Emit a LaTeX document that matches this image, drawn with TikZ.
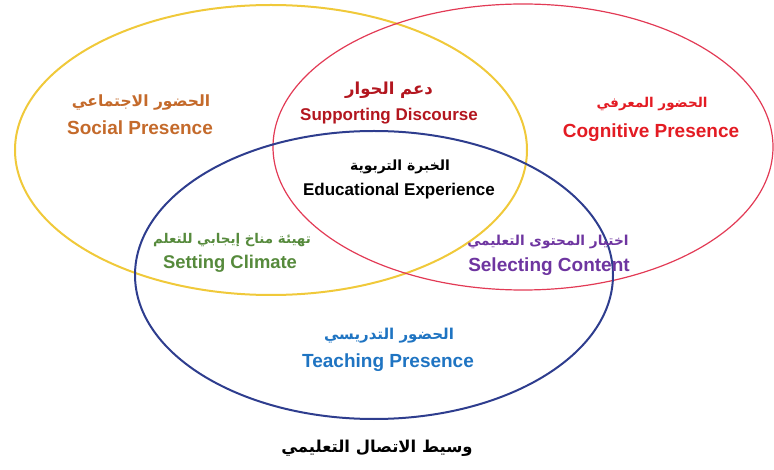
\documentclass[tikz,border=0pt]{standalone}
\usepackage{fontspec}
\usepackage{xcolor}
\usepackage{tikz}
\setmainfont{Liberation Sans}
\newfontfamily\arabicfont[Script=Arabic]{DejaVu Sans}
\TeXXeTstate=1

\definecolor{socialcol}{HTML}{C46A2B}
\definecolor{discoursecol}{HTML}{B3161F}
\definecolor{cognitivecol}{HTML}{E31B23}
\definecolor{climatecol}{HTML}{568A3C}
\definecolor{contentcol}{HTML}{6E35A0}
\definecolor{teachingcol}{HTML}{1F74C2}
\definecolor{yellowline}{HTML}{F0C93A}
\definecolor{redline}{HTML}{E23A55}
\definecolor{blueline}{HTML}{2E3D8E}

\begin{document}
\begin{tikzpicture}[x=1pt, y=-1pt,
  ar/.style={font=\arabicfont\bfseries\fontsize{#1}{#1}\selectfont, inner sep=0pt},
  ar/.default=15,
  en/.style={font=\bfseries\fontsize{#1}{#1}\selectfont, inner sep=0pt},
  en/.default=19]
\useasboundingbox (0,0) rectangle (774,470);

% the three presences
\draw[yellowline, line width=2pt] (271,150) ellipse [x radius=256, y radius=145];
\draw[redline, line width=1.2pt] (523,147) ellipse [x radius=250, y radius=143];
\draw[blueline, line width=2pt] (374,275) ellipse [x radius=239, y radius=144];

% social (left)
\node[ar=15.5, socialcol] (socialAr) at (141,103) {\beginR الحضور الاجتماعي\endR};
\node[en, socialcol] (socialEn) at (140,128) {Social Presence};

% discourse (top middle)
\node[ar=16.5, discoursecol] (discourseAr) at (389,90) {\beginR دعم الحوار\endR};
\node[en=17, discoursecol] (discourseEn) at (389,116) {Supporting Discourse};

% cognitive (right)
\node[ar=13.5, cognitivecol] (cognitiveAr) at (652,104) {\beginR الحضور المعرفي\endR};
\node[en, cognitivecol] (cognitiveEn) at (651,133) {Cognitive Presence};

% centre
\node[ar=14, black] (experienceAr) at (400,167) {\beginR الخبرة التربوية\endR};
\node[en=17, black] (experienceEn) at (399,191) {Educational Experience};

% climate and content
\node[ar=13.4, climatecol] (climateAr) at (232,240) {\beginR تهيئة مناخ إيجابي للتعلم\endR};
\node[en=18.4, climatecol] (climateEn) at (230,264) {Setting Climate};
\node[ar=13.7, contentcol] (contentAr) at (548,242) {\beginR اختيار المحتوى التعليمي\endR};
\node[en, contentcol] (contentEn) at (549,267) {Selecting Content};

% teaching (bottom)
\node[ar, teachingcol] (teachingAr) at (389,336) {\beginR الحضور التدريسي\endR};
\node[en, teachingcol] (teachingEn) at (388,363) {Teaching Presence};

% caption
\node[ar=16.4, black] (caption) at (377,448) {\beginR وسيط الاتصال التعليمي\endR};
\end{tikzpicture}
\end{document}
